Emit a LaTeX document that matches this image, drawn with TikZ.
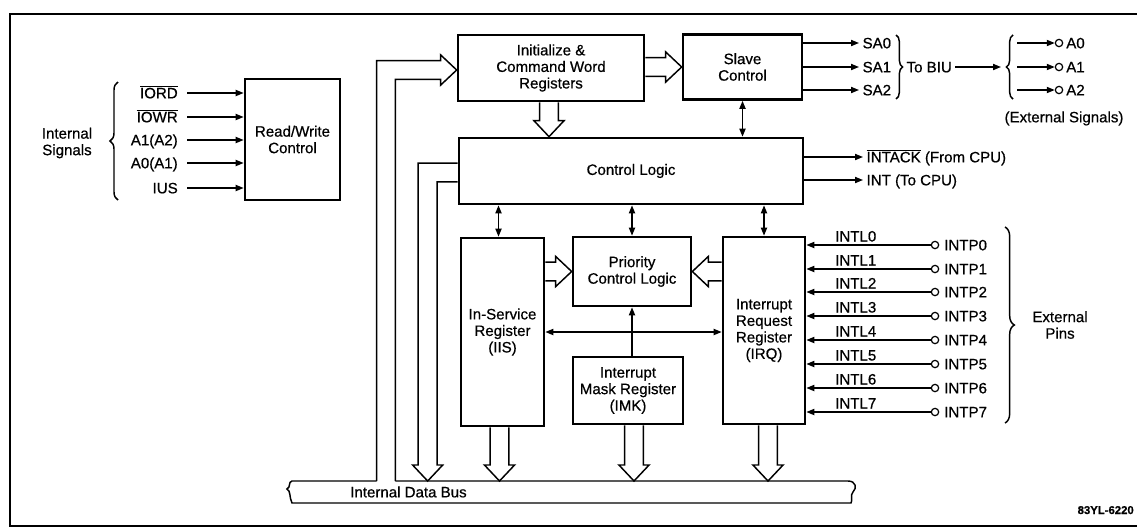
\documentclass[tikz,border=0pt]{standalone}
\usepackage{fontspec}
\setmainfont{Liberation Sans}
\newfontfamily\dgfam{Liberation Sans}[FakeBold=0.6]
\usetikzlibrary{arrows.meta,decorations.pathreplacing,calc}
\newcommand\dgfont{\dgfam\fontsize{11.3}{12.4}\selectfont}
\newcommand\wag{7.1pt}
\newcommand\wah{11.3pt}
\newcommand\wal{12pt}
\newcommand\wideD[2]{\draw[wide] let \p1=#1, \p2=#2 in (\x2-\wag,\y1) -- (\x2-\wag,\y2+\wal) -- (\x2-\wah,\y2+\wal) -- (\p2) -- (\x2+\wah,\y2+\wal) -- (\x2+\wag,\y2+\wal) -- (\x2+\wag,\y1);}
\newcommand\wideR[2]{\draw[wide] let \p1=#1, \p2=#2 in (\x1,\y2+\wag) -- (\x2-\wal,\y2+\wag) -- (\x2-\wal,\y2+\wah) -- (\p2) -- (\x2-\wal,\y2-\wah) -- (\x2-\wal,\y2-\wag) -- (\x1,\y2-\wag);}
\newcommand\wideL[2]{\draw[wide] let \p1=#1, \p2=#2 in (\x1,\y2+\wag) -- (\x2+\wal,\y2+\wag) -- (\x2+\wal,\y2+\wah) -- (\p2) -- (\x2+\wal,\y2-\wah) -- (\x2+\wal,\y2-\wag) -- (\x1,\y2-\wag);}
\tikzset{
  box/.style={draw, line width=2pt, inner sep=0pt, align=center, font=\dgfont},
  lbl/.style={inner sep=0pt, font=\dgfont, text height=8pt, text depth=0pt},
  txt/.style={inner sep=0pt, font=\dgfont, align=center},
  sig/.style={line width=1.1pt},
  arr/.style={sig, -{Triangle[length=6pt,width=4.6pt]}},
  darr/.style={sig, {Triangle[length=6pt,width=4.6pt]}-{Triangle[length=6pt,width=4.6pt]}},
  wide/.style={line width=1.1pt, line join=miter},
  brc/.style={line width=1.1pt, decorate, decoration={brace, amplitude=#1}},
  pinc/.style={circle, draw, line width=0.9pt, fill=white, inner sep=0pt, minimum size=5.5pt},
}
\begin{document}
\begin{tikzpicture}[x=0.75pt,y=-0.75pt]
\useasboundingbox (0,0) rectangle (1137,529);
% frame
\draw[line width=1.2pt] (1137,14) -- (10,14) -- (10,526) -- (1137,526);

% boxes
\node[box, minimum width=71.25pt, minimum height=90.75pt] (RW) at (292.5,139.5) {Read/Write\\Control};
\node[box, minimum width=139.5pt, minimum height=49.5pt] (INIT) at (551,68) {Initialize \&\\Command Word\\Registers};
\node[box, minimum width=89.25pt, minimum height=48.75pt] (SLAVE) at (742.5,67) {Slave\\Control};
\node[box, minimum width=258pt, minimum height=49.5pt] (CL) at (631,171) {Control Logic};
\node[box, minimum width=62.25pt, minimum height=141pt] (ISR) at (502.5,332) {In-Service\\Register\\(IIS)};
\node[box, minimum width=88.5pt, minimum height=51.75pt] (PCL) at (632,271.5) {Priority\\Control Logic};
\node[box, minimum width=82.5pt, minimum height=50.25pt] (IMK) at (628,390.5) {Interrupt\\Mask Register\\(IMK)};
\node[box, minimum width=61.5pt, minimum height=140.25pt] (IRQ) at (764,330.5) {Interrupt\\Request\\Register\\(IRQ)};

% left inputs
\node[txt] (intsig) at (67,143) {Internal\\Signals};
\draw[brc=6pt] (118,200) -- (118,82);
\foreach \nm/\txt/\y in {a/{$\overline{\mbox{IORD}}$}/93, b/{$\overline{\mbox{IOWR}}$}/117, c/A1(A2)/140, d/A0(A1)/163, e/IUS/188} {
  \node[lbl, anchor=east] (in\nm) at (178,\y) {\txt};
  \draw[arr] ([xshift=6.75pt]in\nm.east) -- (in\nm -| RW.west);
}

% slave outputs
\foreach \i/\y in {0/43,1/67,2/90} {
  \node[lbl, anchor=west, inner xsep=2.5pt] (SA\i) at (859,\y) {SA\i};
  \draw[arr] (SLAVE.east |- SA\i) -- (SA\i.west);
}
\draw[brc=5pt] (896,35) -- (896,99);
\node[lbl, anchor=west, inner xsep=2.5pt] (biu) at (903,67) {To BIU};
\coordinate (biuend) at (1001,67);
\draw[arr] (biu.east) -- (biuend);
\draw[brc=5pt] (1013,99) -- (1013,35);
\foreach \i/\y in {0/43,1/67,2/90} {
  \coordinate (as\i) at (1017,\y);
  \node[pinc] (ac\i) at (1059,\y) {};
  \node[lbl, anchor=west] (A\i) at (1066,\y) {A\i};
  \draw[arr] (as\i) -- (ac\i);
}
\node[lbl] (extsig) at (1064,117) {(External Signals)};

% CPU signals
\node[lbl, anchor=west, inner xsep=2.5pt] (intack) at (863,157) {$\overline{\mbox{INTACK}}$ (From CPU)};
\draw[arr] (CL.east |- intack) -- (intack.west);
\node[lbl, anchor=west, inner xsep=2.5pt] (int) at (863,180) {INT (To CPU)};
\draw[arr] (CL.east |- int) -- (int.west);

% interrupt pins
\foreach \i/\y in {0/245,1/269,2/292,3/316,4/340,5/364,6/388,7/412} {
  \node[pinc] (p\i) at (935,\y) {};
  \node[lbl, anchor=west] (P\i) at (944,\y) {INTP\i};
  \draw[arr] (p\i) -- (p\i -| IRQ.east);
  \node[lbl, anchor=base west] (L\i) at (835,{\y-3.5}) {INTL\i};
}
\draw[brc=7pt] (1005,227) -- (1005,423);
\node[txt] (extpins) at (1060,325) {External\\Pins};

% thin internal arrows
\draw[darr] (SLAVE.south) -- (SLAVE.south |- CL.north);
\draw[darr] ($(CL.south -| ISR.north)+(-4,0)$) -- ($(ISR.north)+(-4,0)$);
\draw[darr] (CL.south -| PCL.north) -- (PCL.north);
\draw[darr] (CL.south -| IRQ.north) -- (IRQ.north);
\draw[darr] (ISR.east) -- (ISR.east -| IRQ.west);
\draw[arr] (IMK.north -| PCL.south) -- (PCL.south);

% internal data bus
\coordinate (busTL) at (292,481);
\coordinate (busBL) at (292,503);
\coordinate (busBR) at (851,503);
\coordinate (busTR) at (848,481);
\coordinate (busin) at (386,481);
\draw[sig] ($(busin)+(-9.47,0)$) -- (busTL) .. controls (288,482) and (291,487) .. (287,489) .. controls (291,491) and (289,497) .. (busBL) -- (busBR) .. controls (853,500) and (850,495) .. (853,492) .. controls (857,488) and (856,481) .. (busTR) -- ($(busin)+(9.47,0)$);
\node[lbl, anchor=west] (busl) at (350,492) {Internal Data Bus};

% wide arrows
\draw[wide] let \p1=($(INIT.west)+(0,2)$), \p2=(busin) in (\x2-\wag,\y2) -- (\x2-\wag,\y1+\wag) -- (\x1-\wal,\y1+\wag) -- (\x1-\wal,\y1+\wah) -- (\p1) -- (\x1-\wal,\y1-\wah) -- (\x1-\wal,\y1-\wag) -- (\x2+\wag,\y1-\wag) -- (\x2+\wag,\y2);
\draw[wide] let \p1=($(CL.west)+(0,1.5)$), \p2=($(CL.west |- busTL)+(-30,0)$) in (\x1,\y1+\wag) -- (\x2-\wag,\y1+\wag) -- (\x2-\wag,\y2+\wal) -- (\x2-\wah,\y2+\wal) -- (\p2) -- (\x2+\wah,\y2+\wal) -- (\x2+\wag,\y2+\wal) -- (\x2+\wag,\y1-\wag) -- (\x1,\y1-\wag);
\wideD{(INIT.south)}{($(INIT.south |- CL.north)+(-2,0)$)}
\wideR{(INIT.east)}{(SLAVE.west)}
\wideR{(ISR.east)}{(PCL.west)}
\wideL{(IRQ.west)}{(PCL.east)}
\wideD{(ISR.south)}{($(ISR.south |- busTL)+(-3,0)$)}
\wideD{(IMK.south)}{($(IMK.south |- busTL)+(6,0)$)}
\wideD{(IRQ.south)}{($(IRQ.south |- busTL)+(4,0)$)}

\node[font=\dgfam\bfseries\fontsize{8.5}{10}\selectfont, anchor=base east, inner sep=0pt] (code) at (1134,514) {83YL-6220};
\end{tikzpicture}
\end{document}
